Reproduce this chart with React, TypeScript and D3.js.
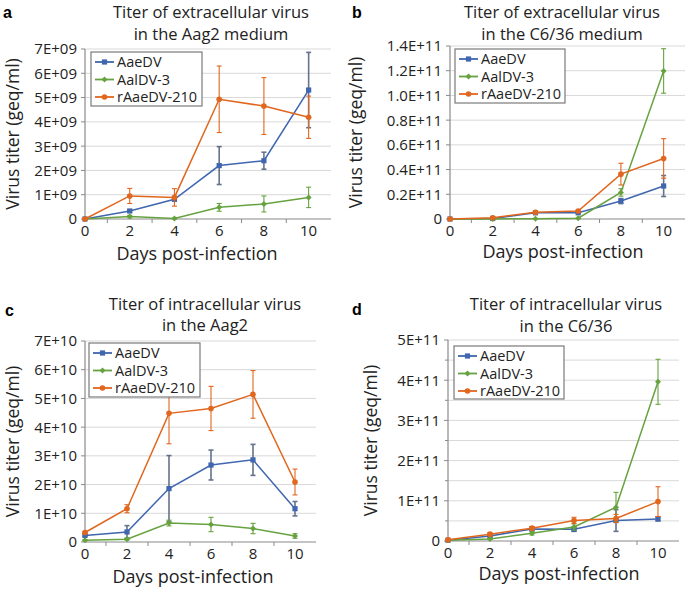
import React from 'react';
import * as d3 from 'd3';

// ---------- data ----------
const days = [0, 2, 4, 6, 8, 10];
const seriesNames = ['AaeDV', 'AalDV-3', 'rAaeDV-210'];

// Panel a: extracellular, Aag2 medium (geq/ml)
const aAaeDV = [0, 0.33e9, 0.81e9, 2.2e9, 2.4e9, 5.31e9];
const aAaeDVErr = [0, 0.04e9, 0.05e9, 0.78e9, 0.35e9, 1.55e9];
const aAalDV = [0, 0.1e9, 0.02e9, 0.48e9, 0.62e9, 0.89e9];
const aAalDVErr = [0, 0.05e9, 0.02e9, 0.16e9, 0.33e9, 0.42e9];
const aRAaeDV = [0, 0.95e9, 0.89e9, 4.93e9, 4.65e9, 4.19e9];
const aRAaeDVErr = [0, 0.31e9, 0.36e9, 1.37e9, 1.17e9, 0.87e9];
const aTickLabels = ['0', '1E+09', '2E+09', '3E+09', '4E+09', '5E+09', '6E+09', '7E+09'];

// Panel b: extracellular, C6/36 medium
const bAaeDV = [0, 0.004e11, 0.05e11, 0.05e11, 0.145e11, 0.267e11];
const bAaeDVErr = [0, 0.002e11, 0.004e11, 0.005e11, 0.02e11, 0.085e11];
const bAalDV = [0, 0.001e11, 0.003e11, 0.006e11, 0.215e11, 1.198e11];
const bAalDVErr = [0, 0, 0.001e11, 0.002e11, 0.03e11, 0.18e11];
const bRAaeDV = [0, 0.01e11, 0.054e11, 0.065e11, 0.363e11, 0.49e11];
const bRAaeDVErr = [0, 0.004e11, 0.005e11, 0.005e11, 0.088e11, 0.16e11];
const bTickLabels = ['0', '0.2E+11', '0.4E+11', '0.6E+11', '0.8E+11', '1.0E+11', '1.2E+11', '1.4E+11'];

// Panel c: intracellular, Aag2
const cAaeDV = [0.23e10, 0.35e10, 1.86e10, 2.68e10, 2.86e10, 1.16e10];
const cAaeDVErr = [0.03e10, 0.22e10, 1.15e10, 0.52e10, 0.54e10, 0.25e10];
const cAalDV = [0.06e10, 0.1e10, 0.66e10, 0.61e10, 0.47e10, 0.21e10];
const cAalDVErr = [0.02e10, 0.03e10, 0.1e10, 0.25e10, 0.18e10, 0.08e10];
const cRAaeDV = [0.33e10, 1.16e10, 4.48e10, 4.65e10, 5.14e10, 2.09e10];
const cRAaeDVErr = [0.03e10, 0.14e10, 1.06e10, 0.77e10, 0.83e10, 0.45e10];
const cTickLabels = ['0', '1E+10', '2E+10', '3E+10', '4E+10', '5E+10', '6E+10', '7E+10'];

// Panel d: intracellular, C6/36
const dAaeDV = [0.02e11, 0.125e11, 0.3e11, 0.29e11, 0.51e11, 0.55e11];
const dAaeDVErr = [0.005e11, 0.02e11, 0.04e11, 0.05e11, 0.27e11, 0.05e11];
const dAalDV = [0.02e11, 0.05e11, 0.19e11, 0.35e11, 0.84e11, 3.96e11];
const dAalDVErr = [0.005e11, 0.01e11, 0.04e11, 0.08e11, 0.37e11, 0.56e11];
const dRAaeDV = [0.03e11, 0.17e11, 0.32e11, 0.51e11, 0.56e11, 0.98e11];
const dRAaeDVErr = [0.005e11, 0.04e11, 0.04e11, 0.08e11, 0.1e11, 0.37e11];
const dTickLabels = ['0', '1E+11', '2E+11', '3E+11', '4E+11', '5E+11'];

// ---------- style ----------
const FONT = '"Open Sans", "Noto Sans", sans-serif';
const COLORS = ['#3F66AE', '#66A23F', '#E1661E'];
const ERR_COLORS = ['#4B5B78', '#66A23F', '#E1661E'];
const MARKERS = ['square', 'diamond', 'circle'];

type PanelCfg = {
  letter: string; letterX: number; letterY: number;
  title: string[]; titleX: number; titleY: number[];
  left: number; right: number; top: number; bottom: number;
  yMax: number; labelStep: number; gridStep: number;
  tickLabels: string[];
  yLabelX: number; xLabelX: number; xLabelY: number;
  legend: { x: number; y: number; w: number; h: number };
  values: number[][]; errors: number[][];
};

const panels: PanelCfg[] = [
  {
    letter: 'a', letterX: 3, letterY: 18,
    title: ['Titer of extracellular virus', 'in the Aag2 medium'], titleX: 211, titleY: [18, 39.5],
    left: 85, right: 331, top: 49, bottom: 219,
    yMax: 7e9, labelStep: 1e9, gridStep: 1e9, tickLabels: aTickLabels,
    yLabelX: 13, xLabelX: 197, xLabelY: 260,
    legend: { x: 91, y: 52, w: 111, h: 54 },
    values: [aAaeDV, aAalDV, aRAaeDV], errors: [aAaeDVErr, aAalDVErr, aRAaeDVErr],
  },
  {
    letter: 'b', letterX: 352, letterY: 18,
    title: ['Titer of extracellular virus', 'in the C6/36 medium'], titleX: 562, titleY: [18, 39.5],
    left: 450, right: 685, top: 46, bottom: 219,
    yMax: 1.4e11, labelStep: 0.2e11, gridStep: 0.2e11, tickLabels: bTickLabels,
    yLabelX: 356, xLabelX: 563, xLabelY: 258,
    legend: { x: 455, y: 49, w: 110, h: 54 },
    values: [bAaeDV, bAalDV, bRAaeDV], errors: [bAaeDVErr, bAalDVErr, bRAaeDVErr],
  },
  {
    letter: 'c', letterX: 5, letterY: 316,
    title: ['Titer of intracellular virus', 'in the Aag2'], titleX: 205, titleY: [310, 331],
    left: 85, right: 316, top: 341, bottom: 542,
    yMax: 7e10, labelStep: 1e10, gridStep: 1e10, tickLabels: cTickLabels,
    yLabelX: 13, xLabelX: 193, xLabelY: 583,
    legend: { x: 89, y: 343, w: 111, h: 54 },
    values: [cAaeDV, cAalDV, cRAaeDV], errors: [cAaeDVErr, cAalDVErr, cRAaeDVErr],
  },
  {
    letter: 'd', letterX: 352, letterY: 315,
    title: ['Titer of intracellular virus', 'in the C6/36'], titleX: 566, titleY: [310, 332],
    left: 448, right: 679, top: 340, bottom: 541,
    yMax: 5e11, labelStep: 1e11, gridStep: 0.5e11, tickLabels: dTickLabels,
    yLabelX: 371, xLabelX: 559, xLabelY: 580,
    legend: { x: 454, y: 346, w: 110, h: 53 },
    values: [dAaeDV, dAalDV, dRAaeDV], errors: [dAaeDVErr, dAalDVErr, dRAaeDVErr],
  },
];

function Marker({ kind, x, y, color }: { kind: string; x: number; y: number; color: string }) {
  if (kind === 'square') return <rect x={x - 2.6} y={y - 2.6} width={5.2} height={5.2} fill={color} />;
  if (kind === 'diamond') {
    const s = 3;
    return <path d={`M${x},${y - s}L${x + s},${y}L${x},${y + s}L${x - s},${y}Z`} fill={color} />;
  }
  return <circle cx={x} cy={y} r={2.8} fill={color} />;
}

function Panel({ cfg }: { cfg: PanelCfg }) {
  const x = d3.scaleLinear().domain([0, 11]).range([cfg.left, cfg.right]);
  const y = d3.scaleLinear().domain([0, cfg.yMax]).range([cfg.bottom, cfg.top]);
  const nGrid = Math.round(cfg.yMax / cfg.gridStep);
  const grid = d3.range(1, nGrid + 1).map((i) => i * cfg.gridStep);
  const nLab = Math.round(cfg.yMax / cfg.labelStep);
  const labelVals = d3.range(0, nLab + 1).map((i) => i * cfg.labelStep);
  const minorY = cfg.gridStep < cfg.labelStep ? grid.filter((_, i) => i % 2 === 0) : [];
  const line = d3.line<number>().x((_, i) => x(days[i])).y((v) => y(v));
  const oddDays = [1, 3, 5, 7, 9];
  const yMid = (cfg.top + cfg.bottom) / 2;
  const lg = cfg.legend;

  return (
    <g>
      <text x={cfg.letterX} y={cfg.letterY} fontFamily="Arial, Liberation Sans, sans-serif" fontWeight="bold" fontSize={16}>{cfg.letter}</text>
      {cfg.title.map((t, i) => (
        <text key={i} x={cfg.titleX} y={cfg.titleY[i]} textAnchor="middle" fontFamily={FONT} fontSize={16.5} fill="#222">{t}</text>
      ))}
      {grid.map((g) => (
        <line key={g} x1={cfg.left} x2={cfg.right} y1={y(g)} y2={y(g)} stroke="#d9d9d9" strokeWidth={1} />
      ))}
      {/* y axis */}
      <line x1={cfg.left} x2={cfg.left} y1={cfg.top} y2={cfg.bottom} stroke="#8a8a8a" strokeWidth={1.2} />
      {labelVals.map((v) => (
        <line key={'t' + v} x1={cfg.left - 4} x2={cfg.left} y1={y(v)} y2={y(v)} stroke="#8a8a8a" />
      ))}
      {minorY.map((v) => (
        <line key={'m' + v} x1={cfg.left - 3} x2={cfg.left} y1={y(v)} y2={y(v)} stroke="#8a8a8a" />
      ))}
      {labelVals.map((v, i) => (
        <text key={'l' + v} x={cfg.left - 8} y={y(v)} dy="0.36em" textAnchor="end" fontFamily={FONT} fontSize={15} fill="#222">{cfg.tickLabels[i]}</text>
      ))}
      {/* x axis */}
      <line x1={cfg.left} x2={cfg.right} y1={cfg.bottom} y2={cfg.bottom} stroke="#8a8a8a" strokeWidth={1.2} />
      {oddDays.map((dd) => (
        <line key={'x' + dd} x1={x(dd)} x2={x(dd)} y1={cfg.bottom} y2={cfg.bottom + 4} stroke="#8a8a8a" />
      ))}
      {days.map((dd) => (
        <text key={'xl' + dd} x={x(dd)} y={cfg.bottom + 17} textAnchor="middle" fontFamily={FONT} fontSize={15} fill="#222">{dd}</text>
      ))}
      <text x={cfg.xLabelX} y={cfg.xLabelY} textAnchor="middle" fontFamily={FONT} fontSize={18} fill="#222">Days post-infection</text>
      <text transform={`translate(${cfg.yLabelX},${yMid}) rotate(-90)`} dy="0.35em" textAnchor="middle" fontFamily={FONT} fontSize={17.5} fill="#222">Virus titer (geq/ml)</text>
      {/* series */}
      {cfg.values.map((vals, si) => (
        <g key={si}>
          <path d={line(vals) || ''} fill="none" stroke={COLORS[si]} strokeWidth={1.5} />
          {vals.map((v, i) => {
            const e = cfg.errors[si][i];
            if (!e) return null;
            const cx = x(days[i]);
            return (
              <g key={'e' + i} stroke={ERR_COLORS[si]} strokeWidth={si === 0 ? 1.6 : 1.1} opacity={si === 0 ? 0.85 : 1}>
                <line x1={cx} x2={cx} y1={y(v - e)} y2={y(v + e)} />
                <line x1={cx - 2.5} x2={cx + 2.5} y1={y(v - e)} y2={y(v - e)} />
                <line x1={cx - 2.5} x2={cx + 2.5} y1={y(v + e)} y2={y(v + e)} />
              </g>
            );
          })}
          {vals.map((v, i) => (
            <Marker key={'p' + i} kind={MARKERS[si]} x={x(days[i])} y={y(v)} color={COLORS[si]} />
          ))}
        </g>
      ))}
      {/* legend */}
      <rect x={lg.x} y={lg.y} width={lg.w} height={lg.h} fill="#fff" stroke="#7a7a7a" strokeWidth={1.2} />
      {seriesNames.map((n, i) => {
        const ry = lg.y + 10 + i * 17.5;
        return (
          <g key={n}>
            <line x1={lg.x + 4} x2={lg.x + 23} y1={ry} y2={ry} stroke={COLORS[i]} strokeWidth={1.8} />
            <Marker kind={MARKERS[i]} x={lg.x + 13.5} y={ry} color={COLORS[i]} />
            <text x={lg.x + 26} y={ry} dy="0.36em" fontFamily={FONT} fontSize={14.5} fill="#222">{n}</text>
          </g>
        );
      })}
    </g>
  );
}

export default function App() {
  return (
    <svg width={685} height={590} style={{ position: 'absolute', left: 0, top: 0, background: '#fff' }}>
      <rect width={685} height={590} fill="#fff" />
      {panels.map((p) => (
        <Panel key={p.letter} cfg={p} />
      ))}
    </svg>
  );
}
